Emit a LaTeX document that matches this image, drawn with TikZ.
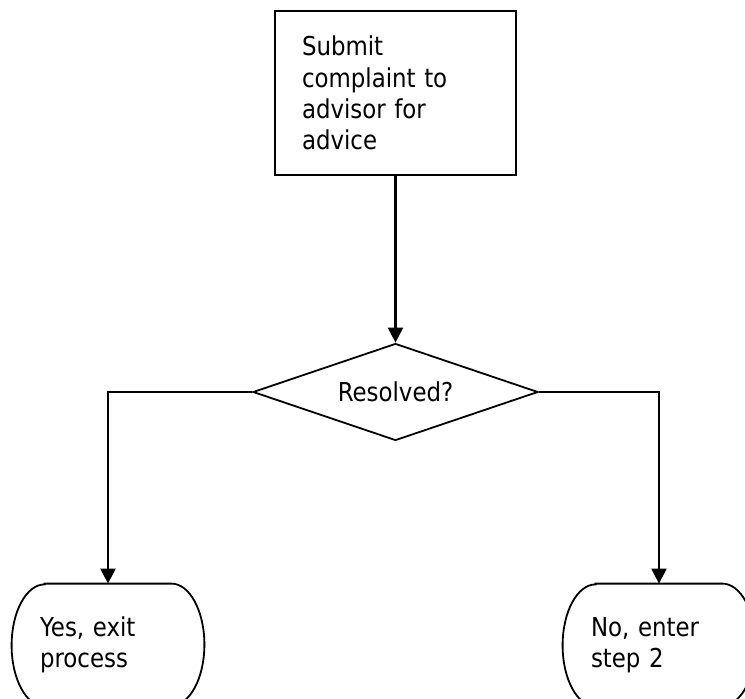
\documentclass[tikz,border=0pt]{standalone}
\usepackage{fontspec}
\setmainfont{DejaVu Sans}[FakeStretch=0.88]
\usetikzlibrary{shapes.geometric,arrows.meta}

\tikzset{
  stepbox/.style={rectangle,draw=black,line width=1.1pt,minimum width=120.5pt,minimum height=82pt,
    text width=93.5pt,inner sep=0pt,align=left,font=\fontsize{13pt}{15.6pt}\selectfont},
  decision/.style={diamond,draw=black,line width=0.9pt,aspect=2.94,minimum width=142.5pt,minimum height=48.5pt,
    inner sep=0pt,font=\fontsize{13pt}{15.6pt}\selectfont},
  terminal/.style={rectangle,minimum width=96pt,minimum height=61pt,text width=68pt,
    inner sep=0pt,align=left,font=\fontsize{13pt}{15.6pt}\selectfont},
  flow/.style={-{Triangle[length=7.5pt,width=7.5pt]},line width=1.1pt}
}

\begin{document}
\begin{tikzpicture}[x=0.5pt,y=0.5pt]
\useasboundingbox[fill=white] (0,0) rectangle (745,698);

\node[stepbox] (submit) at (395.5,605) {Submit\\complaint to\\advisor for\\advice};
\node[decision] (resolved) at (395.5,306) {Resolved?};
\node[terminal] (yes) at (108,53) {Yes, exit\\process};
\node[terminal] (no) at (659,53) {No, enter\\step 2};

% outline of the two end boxes
\foreach \t in {yes,no}
  \draw[line width=0.9pt] ([xshift=16.5pt]\t.north west) -- ([xshift=-16.5pt]\t.north east)
    arc[start angle=90,end angle=-90,x radius=16.5pt,y radius=30.5pt]
    -- ([xshift=16.5pt]\t.south west)
    arc[start angle=-90,end angle=-270,x radius=16.5pt,y radius=30.5pt] -- cycle;

\draw[flow] (submit) -- (resolved);
\draw[flow] (resolved.west) -| (yes.north);
\draw[flow] (resolved.east) -| (no.north);

\end{tikzpicture}
\end{document}
